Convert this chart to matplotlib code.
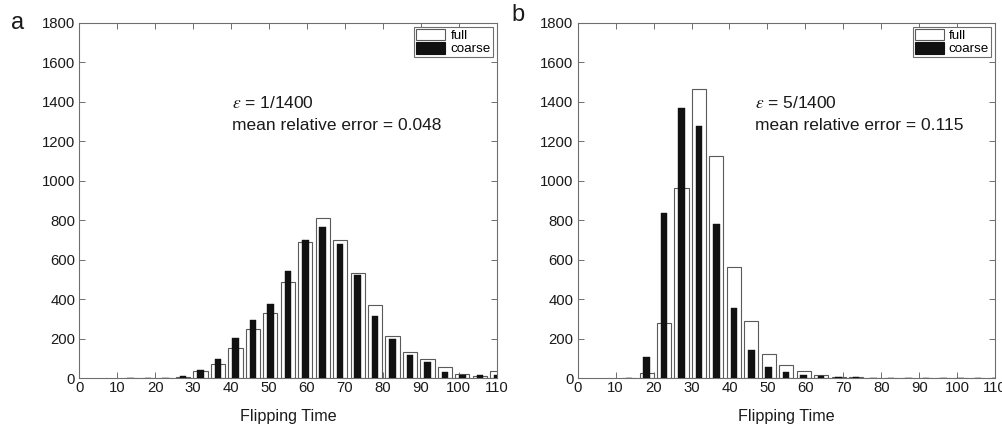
import matplotlib
matplotlib.use("Agg")
import matplotlib.pyplot as plt
from matplotlib.patches import Patch

plt.rcParams['font.family'] = ['Liberation Sans', 'DejaVu Sans']
plt.rcParams['mathtext.fontset'] = 'stix'

# Histogram bin centres (shared by both panels)
bin_centers = [13.55, 18.15, 22.75, 27.35, 31.95, 36.55, 41.15, 45.75, 50.35, 54.95,
               59.55, 64.15, 68.75, 73.35, 77.95, 82.55, 87.15, 91.75, 96.35, 100.95,
               105.55, 110.15]

# Panel a: epsilon = 1/1400
full_a = [0, 0, 3, 7, 35, 72, 155, 248, 330, 486, 688, 813, 702, 535, 371, 216, 135, 98,
          59, 20, 14, 35]
coarse_a = [0, 0, 0, 12, 40, 100, 202, 297, 376, 543, 698, 766, 678, 521, 315, 197, 116,
            83, 34, 17, 15, 17]

# Panel b: epsilon = 5/1400
full_b = [0, 28, 280, 965, 1465, 1123, 562, 292, 123, 66, 37, 19, 6, 6, 2, 2, 1, 1, 1,
          0, 0, 0]
coarse_b = [0, 108, 838, 1368, 1277, 782, 354, 142, 59, 32, 17, 11, 9, 8, 0, 0, 0, 0, 0,
            0, 0, 0]

x_ticks = list(range(0, 111, 10))
y_ticks = list(range(0, 1801, 200))
panel_labels = ['a', 'b']
eps_labels = [r'$\varepsilon$ = 1/1400', r'$\varepsilon$ = 5/1400']
err_labels = ['mean relative error = 0.048', 'mean relative error = 0.115']
legend_labels = ['full', 'coarse']

W, H = 1003, 425
fig = plt.figure(figsize=(W / 100, H / 100), dpi=100)

spine_col = '#6e6e6e'
edge_col = '#5a5a5a'
black_col = '#111111'
txt_col = '#1a1a1a'

ax_lefts = [79.3, 577.7]
ax_w = 417.4
ax_top, ax_bot = 22.7, 378.3
data = [(full_a, coarse_a), (full_b, coarse_b)]
text_x = [0.365, 0.425]
label_pos = [(11.5, 29), (511.5, 21)]

for i in range(2):
    ax = fig.add_axes([ax_lefts[i] / W, 1 - ax_bot / H, ax_w / W, (ax_bot - ax_top) / H])
    full, coarse = data[i]
    ax.bar(bin_centers, full, width=3.72, color='white', edgecolor=edge_col,
           linewidth=0.8, zorder=2)
    ax.bar(bin_centers, coarse, width=1.72, color=black_col, edgecolor=black_col,
           linewidth=0.3, zorder=3)
    ax.set_xlim(0, 110)
    ax.set_ylim(0, 1800)
    ax.set_xticks(x_ticks)
    ax.set_yticks(y_ticks)
    ax.tick_params(direction='in', top=True, right=True, length=4, width=0.7,
                   color=spine_col, labelsize=10.7, labelcolor=txt_col)
    ax.tick_params(axis='x', pad=2)
    ax.tick_params(axis='y', pad=3)
    for s in ax.spines.values():
        s.set_color(spine_col)
        s.set_linewidth(0.8)
    ax.set_xlabel('Flipping Time', fontsize=11.6, color=txt_col, labelpad=10)

    ax.text(text_x[i], 0.760, eps_labels[i], transform=ax.transAxes, fontsize=12.5,
            va='baseline', ha='left', color=txt_col)
    ax.text(text_x[i], 0.698, err_labels[i], transform=ax.transAxes, fontsize=12.5,
            va='baseline', ha='left', color=txt_col)

    handles = [Patch(facecolor='white', edgecolor=edge_col, linewidth=0.8),
               Patch(facecolor=black_col, edgecolor=black_col, linewidth=0.8)]
    leg = ax.legend(handles, legend_labels, loc='upper right', fontsize=9.6,
                    frameon=True, fancybox=False, framealpha=1, edgecolor=spine_col,
                    handlelength=2.15, handleheight=0.95, handletextpad=0.4,
                    labelspacing=0.0, borderpad=0.15, borderaxespad=0.3)
    leg.get_frame().set_linewidth(0.8)

    lx, ly = label_pos[i]
    fig.text(lx / W, 1 - ly / H, panel_labels[i], fontsize=17, ha='left',
             va='baseline', color=txt_col)

fig.savefig('out.png', dpi=100)
